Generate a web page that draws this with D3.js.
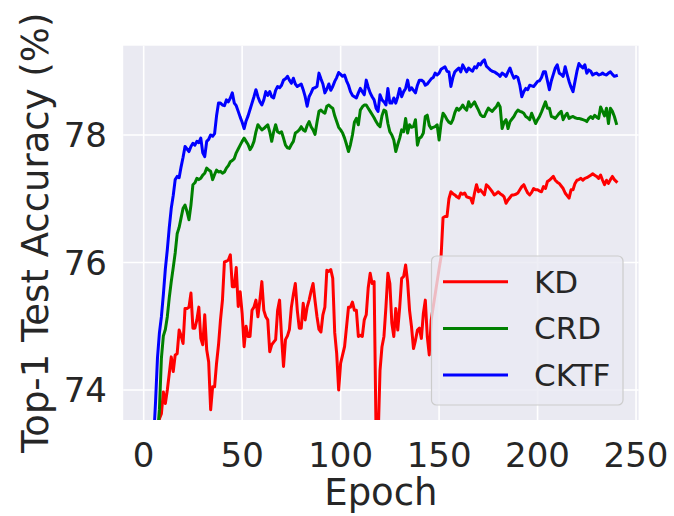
<!DOCTYPE html>
<html>
<head>
<meta charset="utf-8">
<script src="https://cdn.jsdelivr.net/npm/d3@7"></script>
<style>
body { margin: 0; background: #fff; }
text { font-family: "DejaVu Sans", sans-serif; fill: #262626; }
</style>
</head>
<body>
<div id="chart"></div>
<script>
// test accuracy per epoch (1..240)
var kd = [
 55.0, 61.2, 65.8, 68.4, 70.3, 71.8, 73.2, 73.55, 73.63, 73.97,
 73.79, 74.0, 74.26, 74.52, 74.29, 74.55, 74.57, 74.94, 74.85, 74.73,
 75.28, 75.28, 75.3, 75.52, 74.97, 74.97, 75.1, 75.3, 74.81, 74.71,
 75.18, 74.63, 74.44, 73.69, 74.05, 74.05, 74.42, 74.71, 75.1, 75.41,
 76.01, 76.02, 76.04, 76.12, 75.62, 75.62, 75.92, 75.31, 75.54, 75.2,
 74.68, 75.0, 74.84, 74.84, 75.25, 75.3, 75.41, 75.15, 75.41, 75.7,
 75.25, 75.15, 75.1, 74.6, 74.71, 74.75, 74.79, 75.25, 75.41, 74.84,
 74.37, 74.79, 74.85, 74.95, 75.3, 75.5, 75.67, 75.25, 74.97, 74.97,
 75.36, 75.1, 75.3, 75.41, 75.55, 75.67, 75.4, 75.15, 74.95, 74.91,
 75.18, 75.3, 75.88, 75.86, 75.89, 75.75, 74.9, 74.57, 74.0, 74.42,
 74.55, 74.68, 74.99, 75.3, 75.3, 75.38, 75.25, 75.25, 74.84, 74.86,
 74.84, 75.1, 75.18, 75.6, 75.83, 75.67, 75.7, 73.3, 73.2, 74.31,
 74.68, 74.84, 75.3, 75.83, 75.67, 75.05, 74.84, 75.28, 74.94, 75.3,
 75.75, 75.78, 75.96, 75.7, 75.25, 74.99, 74.65, 74.78, 74.94, 74.97,
 74.81, 75.2, 75.41, 74.84, 74.55, 75.1, 75.3, 75.5, 75.7, 75.9,
 76.09, 76.7, 76.72, 76.72, 77.0, 77.11, 77.08, 77.06, 77.03, 77.01,
 77.09, 77.07, 77.09, 77.03, 77.02, 77.01, 76.93, 77.09, 77.22, 77.11,
 77.14, 77.1, 77.06, 77.22, 77.19, 77.15, 77.11, 77.06, 77.08, 77.11,
 77.08, 77.06, 77.03, 76.93, 76.98, 77.02, 77.06, 77.06, 77.07, 77.09,
 77.14, 77.19, 77.22, 77.15, 77.09, 77.06, 77.1, 77.16, 77.14, 77.14,
 77.12, 77.11, 77.19, 77.16, 77.27, 77.29, 77.32, 77.35, 77.29, 77.26,
 77.24, 77.2, 77.16, 77.09, 77.05, 77.01, 77.14, 77.14, 77.24, 77.29,
 77.3, 77.32, 77.29, 77.32, 77.33, 77.35, 77.37, 77.39, 77.37, 77.35,
 77.32, 77.37, 77.29, 77.22, 77.29, 77.24, 77.3, 77.35, 77.3, 77.27
];
var crd = [
 60.1, 66.3, 69.5, 71.2, 72.4, 72.9, 73.3, 73.7, 74.5, 74.85,
 74.95, 75.15, 75.45, 75.7, 75.92, 76.15, 76.45, 76.55, 76.7, 76.85,
 76.9, 76.8, 76.67, 76.9, 77.22, 77.25, 77.32, 77.3, 77.32, 77.37,
 77.4, 77.48, 77.45, 77.43, 77.3, 77.38, 77.45, 77.42, 77.43, 77.4,
 77.42, 77.48, 77.52, 77.58, 77.6, 77.63, 77.72, 77.78, 77.84, 77.9,
 77.95, 77.9, 77.85, 77.77, 77.82, 77.9, 78.05, 78.16, 78.12, 78.08,
 78.1, 78.13, 78.16, 78.05, 77.9, 78.05, 78.16, 78.05, 78.03, 78.05,
 77.95, 77.84, 77.8, 77.79, 77.85, 77.9, 78.03, 78.05, 78.08, 78.13,
 78.08, 78.06, 78.15, 78.21, 78.13, 78.08, 78.01, 78.2, 78.37, 78.39,
 78.36, 78.34, 78.45, 78.47, 78.44, 78.42, 78.3, 78.21, 78.12, 78.08,
 78.03, 77.95, 77.85, 77.74, 77.85, 78.0, 78.2, 78.26, 78.16, 78.39,
 78.44, 78.47, 78.47, 78.42, 78.37, 78.32, 78.27, 78.21, 78.16, 78.13,
 78.3, 78.39, 78.37, 78.18, 78.05, 78.0, 77.92, 77.74, 77.85, 77.95,
 78.08, 78.05, 78.26, 78.03, 78.16, 78.12, 78.13, 78.24, 77.84, 77.95,
 77.97, 78.03, 78.29, 78.31, 78.15, 78.1, 78.12, 78.13, 78.16, 77.92,
 78.18, 78.34, 78.3, 78.24, 78.2, 78.18, 78.24, 78.35, 78.42, 78.39,
 78.42, 78.47, 78.42, 78.39, 78.52, 78.44, 78.48, 78.52, 78.45, 78.39,
 78.32, 78.29, 78.29, 78.36, 78.42, 78.39, 78.37, 78.41, 78.44, 78.5,
 78.44, 78.1, 78.2, 78.24, 78.1, 78.21, 78.25, 78.29, 78.35, 78.39,
 78.37, 78.36, 78.34, 78.29, 78.27, 78.24, 78.34, 78.26, 78.18, 78.24,
 78.29, 78.36, 78.44, 78.52, 78.42, 78.42, 78.29, 78.28, 78.26, 78.3,
 78.34, 78.37, 78.24, 78.3, 78.34, 78.26, 78.28, 78.29, 78.27, 78.26,
 78.26, 78.25, 78.24, 78.23, 78.21, 78.26, 78.29, 78.26, 78.31, 78.28,
 78.26, 78.44, 78.37, 78.3, 78.42, 78.18, 78.42, 78.37, 78.29, 78.18
];
var cktf = [
 64.5, 69.8, 71.6, 72.6, 73.2, 73.8, 74.5, 74.9, 75.15, 75.5,
 75.9, 76.2, 76.55, 76.85, 77.05, 77.3, 77.35, 77.33, 77.5, 77.65,
 77.82, 77.78, 77.74, 77.82, 77.87, 77.84, 77.9, 77.88, 77.95, 77.72,
 77.66, 77.9, 77.93, 78.0, 77.98, 78.02, 78.3, 78.5, 78.5, 78.47,
 78.46, 78.55, 78.52, 78.58, 78.66, 78.5, 78.46, 78.37, 78.28, 78.2,
 78.1, 78.22, 78.3, 78.4, 78.5, 78.6, 78.71, 78.6, 78.52, 78.47,
 78.55, 78.68, 78.62, 78.68, 78.6, 78.58, 78.7, 78.76, 78.74, 78.78,
 78.86, 78.88, 78.92, 78.86, 78.81, 78.89, 78.8, 78.76, 78.78, 78.8,
 78.71, 78.6, 78.45, 78.6, 78.66, 78.73, 78.74, 78.76, 78.97, 78.88,
 78.8, 78.66, 78.72, 78.8, 78.7, 78.76, 78.84, 78.9, 78.98, 78.95,
 78.92, 78.94, 78.85, 78.78, 78.68, 78.62, 78.6, 78.58, 78.66, 78.73,
 78.68, 78.63, 78.86, 78.75, 78.66, 78.6, 78.55, 78.42, 78.37, 78.63,
 78.55, 78.52, 78.47, 78.73, 78.5, 78.5, 78.58, 78.5, 78.6, 78.73,
 78.6, 78.68, 78.73, 78.86, 78.7, 78.74, 78.7, 78.66, 78.78, 78.86,
 78.86, 78.84, 78.78, 78.8, 78.84, 78.88, 78.9, 78.97, 78.94, 78.97,
 79.03, 79.05, 79.07, 79.0, 78.99, 78.76, 78.9, 78.99, 79.02, 79.05,
 78.99, 79.1, 79.04, 78.99, 79.05, 79.02, 79.0, 79.07, 79.05, 79.12,
 79.1, 79.15, 79.18, 79.08, 79.05, 79.02, 79.0, 78.99, 78.97, 78.95,
 78.92, 78.97, 78.95, 78.92, 78.99, 79.05, 78.96, 78.89, 78.92, 78.9,
 78.78, 78.6, 78.68, 78.73, 78.71, 78.78, 78.77, 78.76, 78.8, 78.84,
 78.85, 78.9, 78.99, 78.99, 78.85, 78.71, 78.85, 78.95, 79.05, 79.1,
 78.97, 78.95, 78.92, 79.07, 78.95, 78.84, 78.75, 78.68, 78.84, 79.0,
 79.12, 79.08, 79.05, 79.1, 78.97, 79.02, 79.0, 78.94, 78.96, 78.97,
 78.94, 78.95, 78.97, 78.95, 78.94, 78.97, 78.99, 78.95, 78.92, 78.93
];
var seriesNames = ["KD", "CRD", "CKTF"];
var seriesColors = ["#ff0000", "#008000", "#0000ff"];
var xTicks = [0, 50, 100, 150, 200, 250];
var yTicks = [74, 76, 78];

var width = 674, height = 516;
var plotLeft = 123.2, plotRight = 638.6, plotTop = 45.7, plotBottom = 420;

var svg = d3.select("#chart").append("svg")
    .attr("width", width)
    .attr("height", height);

var x = d3.scaleLinear().domain([-10.4, 251.3]).range([plotLeft, plotRight]);
var y = d3.scaleLinear().domain([73.53, 79.40]).range([plotBottom, plotTop]);

// axes background
svg.append("rect")
    .attr("x", plotLeft).attr("y", plotTop)
    .attr("width", plotRight - plotLeft).attr("height", plotBottom - plotTop)
    .attr("fill", "#eaeaf2");

svg.append("clipPath").attr("id", "plotclip")
    .append("rect")
    .attr("x", plotLeft).attr("y", plotTop)
    .attr("width", plotRight - plotLeft).attr("height", plotBottom - plotTop);

// grid
svg.append("g").selectAll("line").data(xTicks).enter().append("line")
    .attr("x1", d => x(d)).attr("x2", d => x(d))
    .attr("y1", plotTop).attr("y2", plotBottom)
    .attr("stroke", "#fff").attr("stroke-width", 1.6);
svg.append("g").selectAll("line").data(yTicks).enter().append("line")
    .attr("x1", plotLeft).attr("x2", plotRight)
    .attr("y1", d => y(d)).attr("y2", d => y(d))
    .attr("stroke", "#fff").attr("stroke-width", 1.6);

// tick labels
svg.append("g").selectAll("text").data(xTicks).enter().append("text")
    .attr("x", d => x(d))
    .attr("y", 467)
    .attr("text-anchor", "middle")
    .style("font-size", "34px")
    .text(d => d);
svg.append("g").selectAll("text").data(yTicks).enter().append("text")
    .attr("x", 107)
    .attr("y", d => y(d) + 12)
    .attr("text-anchor", "end")
    .style("font-size", "34px")
    .text(d => d);

// axis labels
svg.append("text")
    .attr("x", (plotLeft + plotRight) / 2)
    .attr("y", 505)
    .attr("text-anchor", "middle")
    .style("font-size", "37px")
    .text("Epoch");
svg.append("text")
    .attr("transform", "translate(48," + ((plotTop + plotBottom) / 2) + ") rotate(-90)")
    .attr("text-anchor", "middle")
    .style("font-size", "37px")
    .text("Top-1 Test Accuracy (%)");

// lines
var series = [kd, crd, cktf];
var line = d3.line()
    .x((d, i) => x(i + 1))
    .y(d => y(d));
svg.append("g").attr("clip-path", "url(#plotclip)")
    .selectAll("path").data(series).enter().append("path")
    .attr("d", d => line(d))
    .attr("fill", "none")
    .attr("stroke", (d, i) => seriesColors[i])
    .attr("stroke-width", 3)
    .attr("stroke-linejoin", "round")
    .attr("stroke-linecap", "square");

// legend
var lg = svg.append("g").attr("transform", "translate(431.5,256)");
lg.append("rect")
    .attr("width", 191.5).attr("height", 149)
    .attr("rx", 5).attr("ry", 5)
    .attr("fill", "#eaeaf2").attr("fill-opacity", 0.8)
    .attr("stroke", "#cccccc").attr("stroke-width", 1.2);
var rows = lg.selectAll("g.row").data(seriesNames).enter().append("g")
    .attr("class", "row")
    .attr("transform", (d, i) => "translate(0," + (25.7 + i * 46.7) + ")");
rows.append("line")
    .attr("x1", 11.5).attr("x2", 76.5)
    .attr("stroke", (d, i) => seriesColors[i])
    .attr("stroke-width", 3);
rows.append("text")
    .attr("x", 102.5)
    .attr("y", 11)
    .style("font-size", "31px")
    .text(d => d);
</script>
</body>
</html>
